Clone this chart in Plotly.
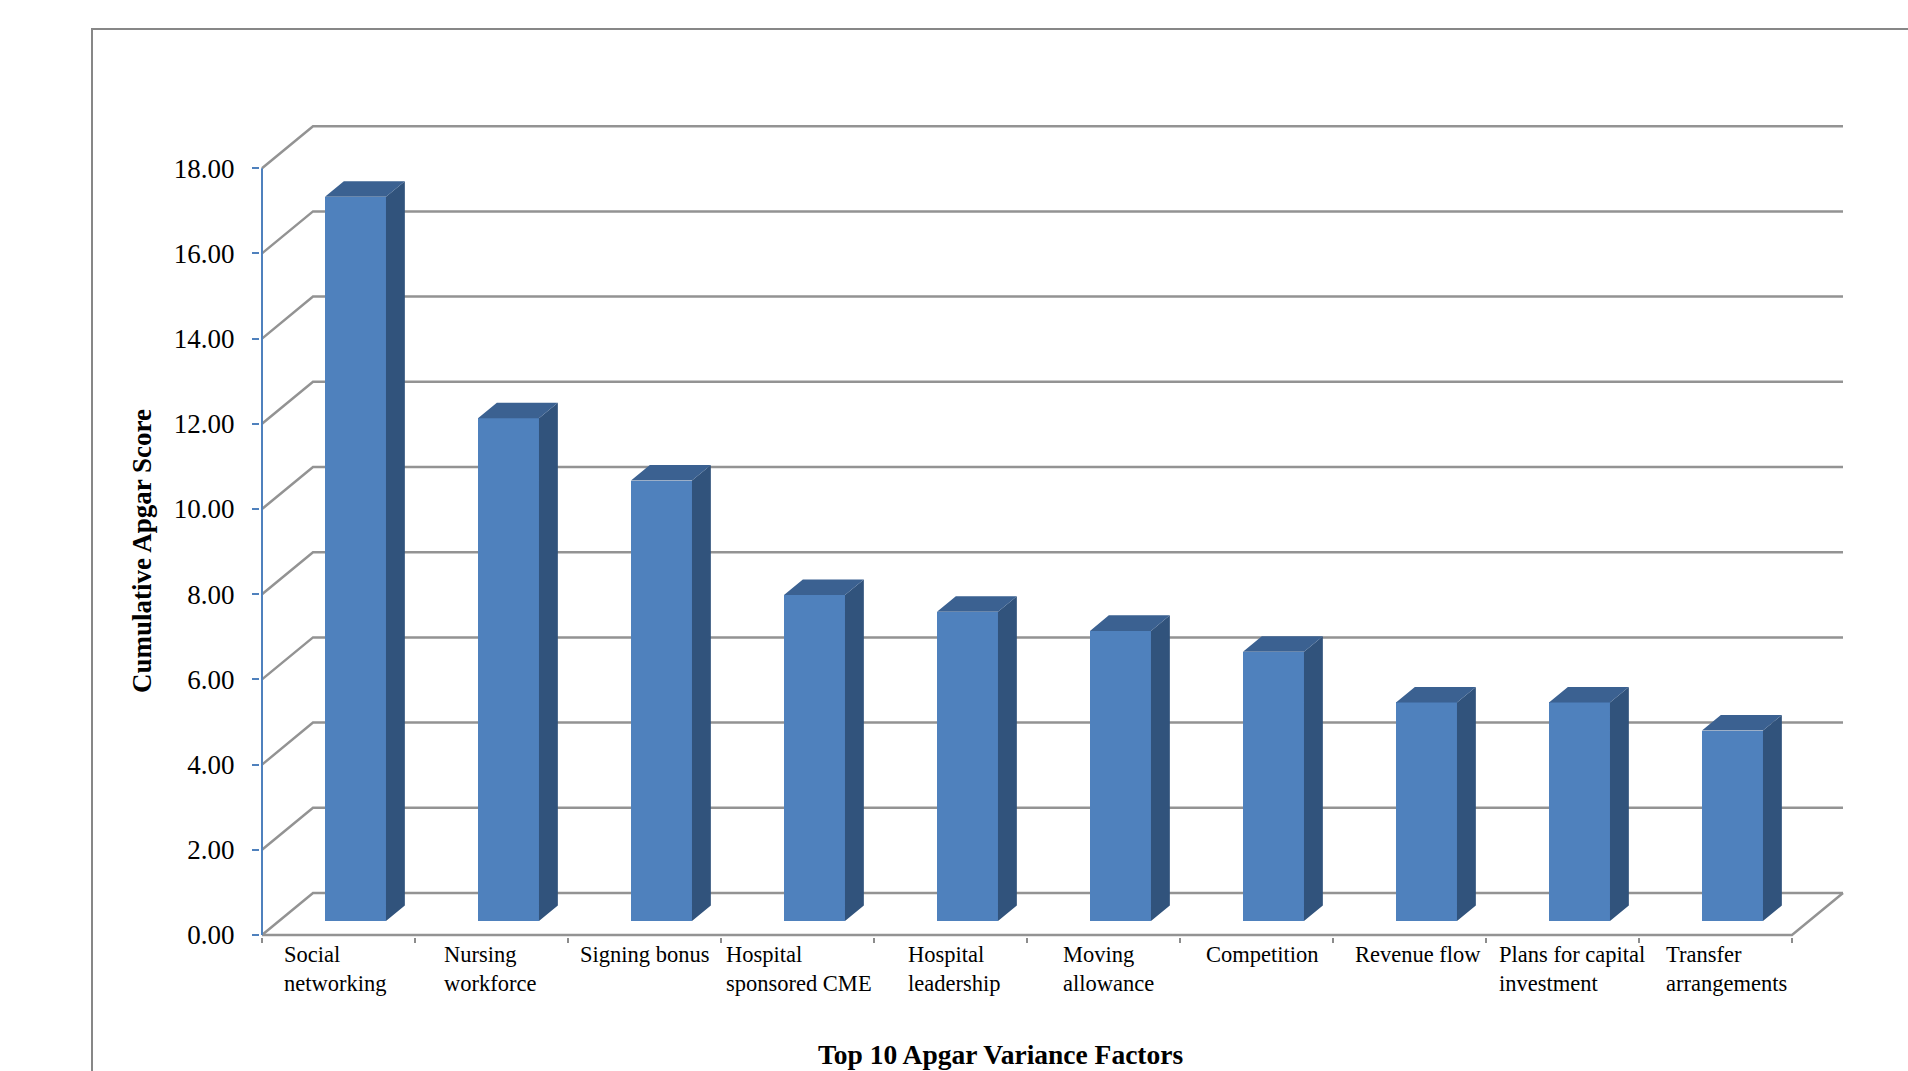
import plotly.graph_objects as go

# ---------------- data ----------------
categories = ["Social networking", "Nursing workforce", "Signing bonus",
              "Hospital sponsored CME", "Hospital leadership", "Moving allowance",
              "Competition", "Revenue flow", "Plans for capital investment",
              "Transfer arrangements"]
tick_labels = ["Social<br>networking", "Nursing<br>workforce", "Signing bonus",
               "Hospital<br>sponsored CME", "Hospital<br>leadership", "Moving<br>allowance",
               "Competition", "Revenue flow", "Plans for capital<br>investment",
               "Transfer<br>arrangements"]
scores = [17.00, 11.80, 10.34, 7.65, 7.26, 6.81, 6.32, 5.13, 5.13, 4.47]
y_ticks = [0, 2, 4, 6, 8, 10, 12, 14, 16, 18]
x_title = "Top 10 Apgar Variance Factors"
y_title = "Cumulative Apgar Score"

# ---------------- geometry / style ----------------
FIG_W, FIG_H = 1908, 1071
PX_X = 153.0     # pixels per category
PX_Y = 42.6      # pixels per score unit
L, R, T, B = 260, 46, 108, 134
W = FIG_W - L - R
H = FIG_H - T - B
X0 = -2 / PX_X
X1 = X0 + W / PX_X
Y0 = -2 / PX_Y
Y1 = Y0 + H / PX_Y

DX = 51 / PX_X   # depth offset (x) of back wall
DY = 42 / PX_Y   # depth offset (y) of back wall
D0 = 0.333       # front depth of bars
DD = 0.37        # bar depth
BW = 61 / PX_X   # bar width

FRONT = "#4f81bd"
SIDE = "#31537c"
TOP = "#3b6191"
GRID = "#939393"
FONT = "Liberation Serif"

n = len(scores)
fig = go.Figure()

# front faces of bars
cx = [i + 0.5 + D0 * DX for i in range(n)]
fig.add_trace(go.Bar(
    x=cx, y=scores, base=[D0 * DY] * n, width=BW,
    marker=dict(color=FRONT, line=dict(width=0)),
    hoverinfo="skip", showlegend=False))

# side faces and top faces
sx, sy, tx, ty = [], [], [], []
for c, v in zip(cx, scores):
    xl, xr = c - BW / 2, c + BW / 2
    b0 = D0 * DY
    ex, ey = DD * DX, DD * DY
    sx += [xr, xr, xr + ex, xr + ex, xr, None]
    sy += [b0, b0 + v, b0 + v + ey, b0 + ey, b0, None]
    tx += [xl, xr, xr + ex, xl + ex, xl, None]
    ty += [b0 + v, b0 + v, b0 + v + ey, b0 + v + ey, b0 + v, None]
fig.add_trace(go.Scatter(x=sx, y=sy, mode="lines", fill="toself", fillcolor=SIDE,
                         line=dict(width=0, color=SIDE), hoverinfo="skip", showlegend=False))
fig.add_trace(go.Scatter(x=tx, y=ty, mode="lines", fill="toself", fillcolor=TOP,
                         line=dict(width=0, color=TOP), hoverinfo="skip", showlegend=False))

shapes = []
# back wall gridlines with side-wall diagonals
for v in y_ticks:
    path = f"M 0,{v} L {DX},{v + DY} L {n + DX},{v + DY}"
    shapes.append(dict(type="path", path=path, xref="x", yref="y", layer="below",
                       line=dict(color=GRID, width=2.5)))
# floor front edge and right diagonal
shapes.append(dict(type="path", path=f"M 0,0 L {n},0 L {n + DX},{DY}",
                   xref="x", yref="y", layer="below", line=dict(color=GRID, width=2.5)))
# value axis line
shapes.append(dict(type="line", x0=0, x1=0, y0=0, y1=max(y_ticks), xref="x", yref="y",
                   layer="above", line=dict(color=FRONT, width=2)))


def px_to_paper_x(px):
    return (px - L) / W


def px_to_paper_y(py):
    return (FIG_H - B - py) / H


# outer chart border (partly cropped in the reference)
shapes.append(dict(type="rect", xref="paper", yref="paper",
                   x0=px_to_paper_x(92), x1=px_to_paper_x(1960),
                   y0=px_to_paper_y(1120), y1=px_to_paper_y(29),
                   line=dict(color="#878787", width=2), fillcolor="rgba(0,0,0,0)",
                   layer="below"))

annotations = []
for i, lab in enumerate(tick_labels):
    annotations.append(dict(x=i + 0.48 + 0.0104 * i, y=0, xref="x", yref="y", text=lab,
                            showarrow=False, xanchor="center", yanchor="top",
                            align="left", yshift=-5,
                            font=dict(family=FONT, size=22.5, color="black")))
annotations.append(dict(x=px_to_paper_x(1000), y=px_to_paper_y(1054),
                        xref="paper", yref="paper",
                        text=f"<b>{x_title}</b>", showarrow=False,
                        xanchor="center", yanchor="middle",
                        font=dict(family=FONT, size=27.5, color="black")))
annotations.append(dict(x=px_to_paper_x(142), y=px_to_paper_y(551),
                        xref="paper", yref="paper",
                        text=f"<b>{y_title}</b>", showarrow=False, textangle=-90,
                        xanchor="center", yanchor="middle",
                        font=dict(family=FONT, size=27, color="black")))

fig.update_layout(
    width=FIG_W, height=FIG_H,
    margin=dict(l=L, r=R, t=T, b=B, autoexpand=False),
    paper_bgcolor="white", plot_bgcolor="white",
    showlegend=False, bargap=0,
    shapes=shapes, annotations=annotations,
    xaxis=dict(range=[X0, X1], showgrid=False, zeroline=False, showline=False,
               tickmode="array", tickvals=list(range(n + 1)), ticktext=[""] * (n + 1),
               ticks="outside", ticklen=5, tickwidth=1.5, tickcolor="#8c8c8c",
               fixedrange=True),
    yaxis=dict(range=[Y0, Y1], showgrid=False, zeroline=False, showline=False,
               tickmode="array", tickvals=y_ticks,
               ticktext=[f"{v:.2f}" for v in y_ticks],
               ticks="outside", ticklen=7, tickwidth=2, tickcolor=FRONT,
               ticklabelstandoff=12,
               tickfont=dict(family=FONT, size=27, color="black"),
               fixedrange=True),
)

fig.write_html("out.html", config={"displayModeBar": False})
